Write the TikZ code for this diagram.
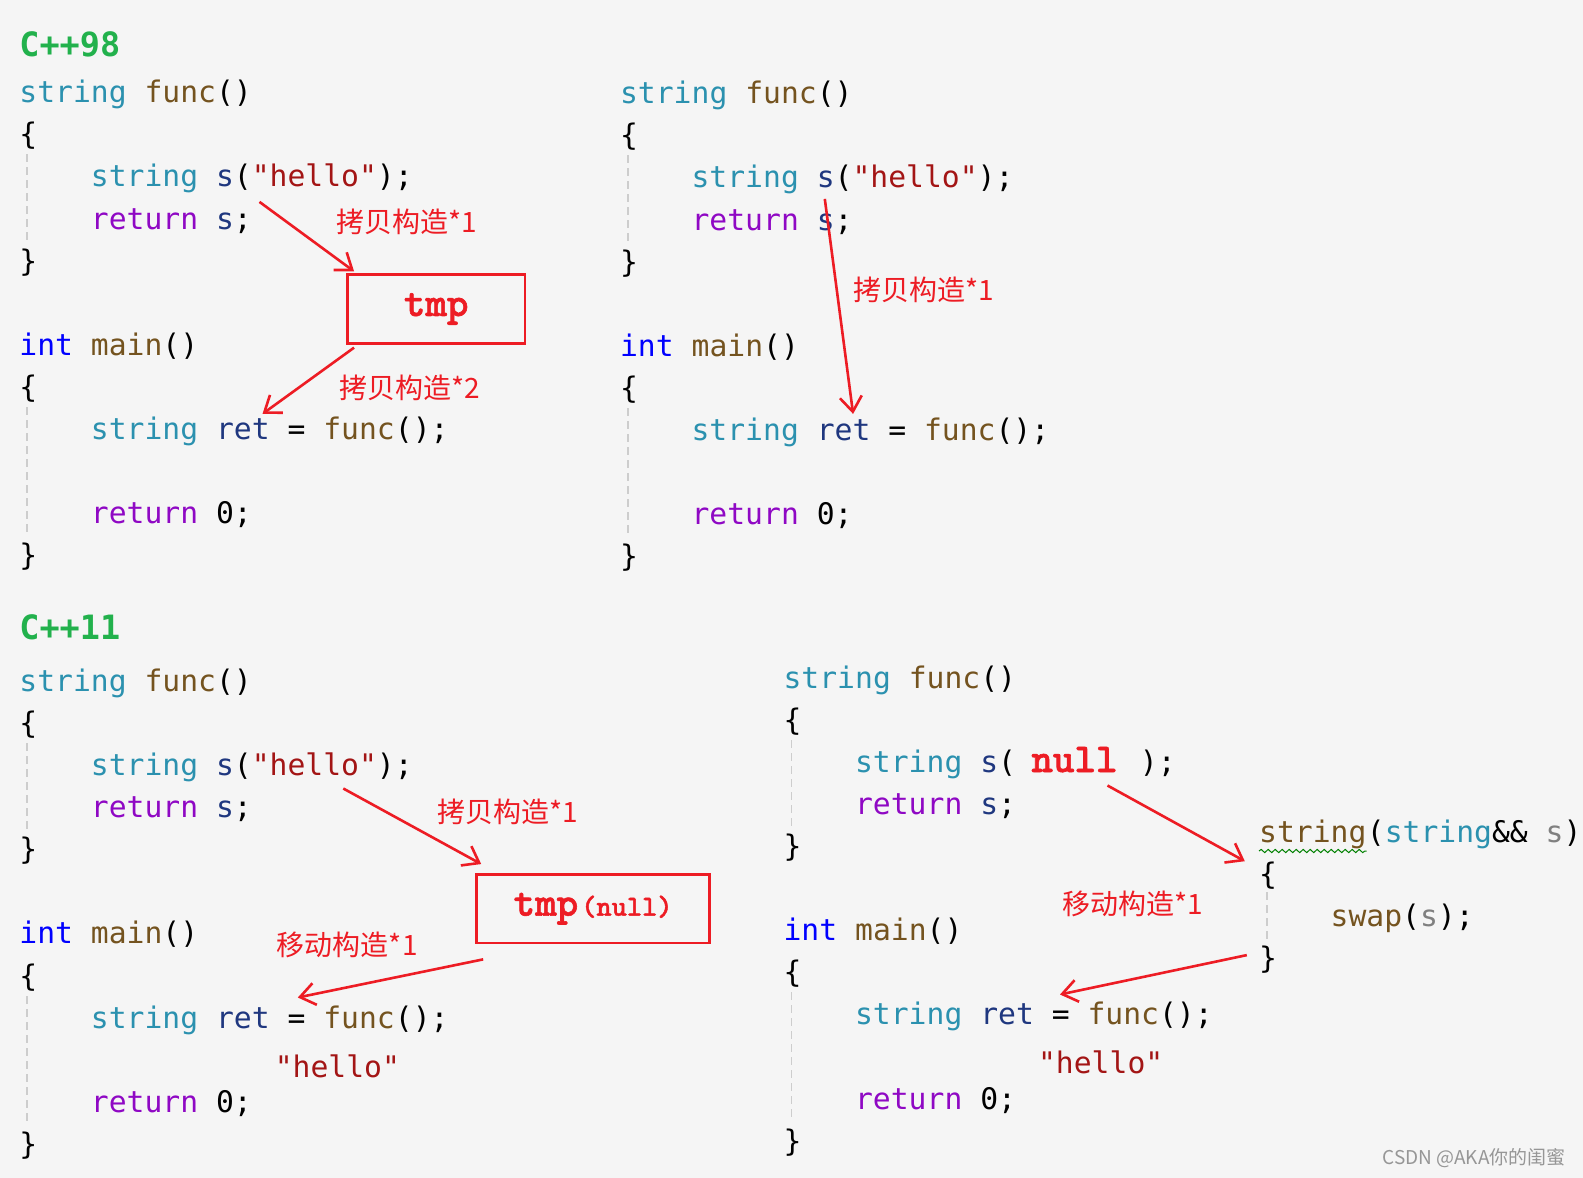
\documentclass[tikz,border=0pt]{standalone}
\usepackage{fontspec}
\setmonofont{DejaVu Sans Mono}
\newfontfamily\cjk{Noto Sans CJK SC}
\newfontfamily\slab{lmmonolt10-bold.otf}[FakeBold=1.5]
\usetikzlibrary{arrows.meta, positioning, decorations.pathmorphing}

\definecolor{bgc}{RGB}{245,245,245}
\definecolor{typ}{RGB}{43,145,175}
\definecolor{fnc}{RGB}{116,83,31}
\definecolor{kwd}{RGB}{0,0,255}
\definecolor{ctl}{RGB}{143,8,196}
\definecolor{vrb}{RGB}{31,55,127}
\definecolor{lit}{RGB}{163,21,21}
\definecolor{prm}{RGB}{128,128,128}
\definecolor{grn}{RGB}{34,177,76}
\definecolor{annred}{RGB}{237,28,36}
\definecolor{guidegray}{RGB}{205,205,205}
\definecolor{wmgray}{RGB}{150,150,150}

\newcommand{\codesize}{\fontsize{29.7}{36}\selectfont}
\newcommand{\cty}[1]{\textcolor{typ}{#1}}
\newcommand{\cfn}[1]{\textcolor{fnc}{#1}}
\newcommand{\ckw}[1]{\textcolor{kwd}{#1}}
\newcommand{\cret}[1]{\textcolor{ctl}{#1}}
\newcommand{\cvar}[1]{\textcolor{vrb}{#1}}
\newcommand{\cstr}[1]{\textcolor{lit}{#1}}
\newcommand{\cprm}[1]{\textcolor{prm}{#1}}

\begin{document}
\begin{tikzpicture}[
    x=1pt, y=-1pt,
    code/.style={anchor=base west, inner sep=0pt, font=\ttfamily\codesize},
    lang/.style={anchor=base west, inner sep=0pt, text=grn, font=\ttfamily\bfseries\fontsize{33.5}{40}\selectfont},
    note/.style={text=annred, inner sep=0pt, font=\cjk\fontsize{28}{32}\selectfont},
    tmpbox/.style={draw=annred, line width=2.6pt, minimum height=68.7pt, inner sep=0pt, text=annred},
    ann/.style={draw=annred, line width=2.6pt, -{Straight Barb[length=15pt, width=22pt]}},
    guide/.style={draw=guidegray, line width=1.5pt, dash pattern=on 8pt off 5pt}
]
    \fill[bgc] (0,0) rectangle (1583,1178);
    \useasboundingbox (0,0) rectangle (1583,1178);

    % C++98, returning a copy
    \node[lang] (lbl98) at (19.2,56) {C++98};
    \node[code] (tlhead) at (19.2,102) {\cty{string} \cfn{func}()};
    \node[code] (tlopen) at (19.2,144) {\{};
    \node[code] (tldecl) at (90.7,186) {\cty{string} \cvar{s}(\cstr{"hello"});};
    \node[code] (tlret) at (90.7,229) {\cret{return} \cvar{s};};
    \node[code] (tlclose) at (19.2,271) {\}};
    \node[code] (tlmain) at (19.2,355) {\ckw{int} \cfn{main}()};
    \node[code] (tlmopen) at (19.2,397) {\{};
    \node[code] (tlcall) at (90.7,439) {\cty{string} \cvar{ret} = \cfn{func}();};
    \node[code] (tlzero) at (90.7,523) {\cret{return} 0;};
    \node[code] (tlmclose) at (19.2,565) {\}};
    \draw[guide] ([xshift=8pt,yshift=-10pt]tlopen.base west) -- ([xshift=8pt,yshift=30pt]tlclose.base west);
    \draw[guide] ([xshift=8pt,yshift=-10pt]tlmopen.base west) -- ([xshift=8pt,yshift=30pt]tlmclose.base west);

    % temporary object
    \node[tmpbox, minimum width=177.7pt] (tmpa) at (436.2,309) {\slab\fontsize{41}{44}\selectfont tmp};
    \coordinate (tlsrc) at (259.5,201.9);
    \coordinate (tldst) at (262.5,413.9);
    \draw[ann] (tlsrc) -- ([xshift=8pt,yshift=2pt]tmpa.north west);
    \draw[ann] ([xshift=8pt,yshift=-3pt]tmpa.south west) -- (tldst);
    \node[note] (copya) at (406.9,222.1) {拷贝构造*1};
    \node[note] (copyb) at (409.9,387.7) {拷贝构造*2};

    % C++98, optimised
    \node[code] (trhead) at (619.9,103) {\cty{string} \cfn{func}()};
    \node[code] (tropen) at (619.9,145) {\{};
    \node[code] (trdecl) at (691.4,187) {\cty{string} \cvar{s}(\cstr{"hello"});};
    \node[code] (trret) at (691.4,230) {\cret{return} \cvar{s};};
    \node[code] (trclose) at (619.9,272) {\}};
    \node[code] (trmain) at (619.9,356) {\ckw{int} \cfn{main}()};
    \node[code] (trmopen) at (619.9,398) {\{};
    \node[code] (trcall) at (691.4,440) {\cty{string} \cvar{ret} = \cfn{func}();};
    \node[code] (trzero) at (691.4,524) {\cret{return} 0;};
    \node[code] (trmclose) at (619.9,566) {\}};
    \draw[guide] ([xshift=8pt,yshift=-10pt]tropen.base west) -- ([xshift=8pt,yshift=30pt]trclose.base west);
    \draw[guide] ([xshift=8pt,yshift=-10pt]trmopen.base west) -- ([xshift=8pt,yshift=30pt]trmclose.base west);
    \coordinate (trsrc) at (824.8,198.9);
    \coordinate (trdst) at (853.1,413.9);
    \draw[ann] (trsrc) -- (trdst);
    \node[note] (copyc) at (923.8,289.8) {拷贝构造*1};

    % C++11, move from tmp
    \node[lang] (lbl11) at (19.2,639) {C++11};
    \node[code] (blhead) at (19.2,691) {\cty{string} \cfn{func}()};
    \node[code] (blopen) at (19.2,733) {\{};
    \node[code] (bldecl) at (90.7,775) {\cty{string} \cvar{s}(\cstr{"hello"});};
    \node[code] (blret) at (90.7,817) {\cret{return} \cvar{s};};
    \node[code] (blclose) at (19.2,859) {\}};
    \node[code] (blmain) at (19.2,943) {\ckw{int} \cfn{main}()};
    \node[code] (blmopen) at (19.2,986) {\{};
    \node[code] (blcall) at (90.7,1028) {\cty{string} \cvar{ret} = \cfn{func}();};
    \node[code] (blhello) at (274.6,1077) {\cstr{"hello"}};
    \node[code] (blzero) at (90.7,1112) {\cret{return} 0;};
    \node[code] (blmclose) at (19.2,1154) {\}};
    \draw[guide] ([xshift=8pt,yshift=-10pt]blopen.base west) -- ([xshift=8pt,yshift=30pt]blclose.base west);
    \draw[guide] ([xshift=8pt,yshift=-10pt]blmopen.base west) -- ([xshift=8pt,yshift=30pt]blmclose.base west);

    \node[tmpbox, minimum width=233.2pt] (tmpb) at (593.1,908.7)
        {\slab\fontsize{41}{44}\selectfont tmp\hspace{3pt}\fontsize{29}{32}\selectfont(null)};
    \coordinate (blsrc) at (343.3,788.5);
    \coordinate (bldst) at (297.8,997.5);
    \draw[ann] (blsrc) -- ([xshift=6pt,yshift=9pt]tmpb.north west);
    \draw[ann] ([xshift=8pt,yshift=-15pt]tmpb.south west) -- (bldst);
    \node[note] (copyd) at (507.8,811.7) {拷贝构造*1};
    \node[note] (movea) at (347.3,945) {移动构造*1};

    % C++11, move constructor
    \node[code] (brhead) at (783.4,688) {\cty{string} \cfn{func}()};
    \node[code] (bropen) at (783.4,730) {\{};
    \node[code] (brdecl) at (854.9,772) {\cty{string} \cvar{s}(};
    \node[code, base right=15pt of brdecl, text=annred, font=\slab\fontsize{41}{44}\selectfont] (brnull) {null};
    \node[code, base right=22pt of brnull] (brend) {);};
    \node[code] (brret) at (854.9,814) {\cret{return} \cvar{s};};
    \node[code] (brclose) at (783.4,856) {\}};
    \node[code] (brmain) at (783.4,940) {\ckw{int} \cfn{main}()};
    \node[code] (brmopen) at (783.4,982) {\{};
    \node[code] (brcall) at (854.9,1024) {\cty{string} \cvar{ret} = \cfn{func}();};
    \node[code] (brhello) at (1037.9,1073) {\cstr{"hello"}};
    \node[code] (brzero) at (854.9,1109) {\cret{return} 0;};
    \node[code] (brmclose) at (783.4,1151) {\}};
    \draw[guide] ([xshift=8pt,yshift=-10pt]bropen.base west) -- ([xshift=8pt,yshift=30pt]brclose.base west);
    \draw[guide] ([xshift=8pt,yshift=-10pt]brmopen.base west) -- ([xshift=8pt,yshift=30pt]brmclose.base west);

    \node[code] (ctorname) at (1259,842) {\cfn{string}};
    \node[code, base right=0pt of ctorname] (ctorargs) {(\cty{string}\&\& \cprm{s})};
    \node[code] (ctoropen) at (1259,884) {\{};
    \node[code] (ctorswap) at (1330.5,926) {\cfn{swap}(\cprm{s});};
    \node[code] (ctorclose) at (1259,968) {\}};
    \draw[green!50!black, line width=1pt, decorate, decoration={snake, amplitude=1.6pt, segment length=7pt}]
        ([yshift=-9pt]ctorname.base west) -- ([yshift=-9pt]ctorname.base east);
    \draw[guide] ([xshift=8pt,yshift=-8pt]ctoropen.base west) -- ([xshift=8pt,yshift=26pt]ctorclose.base west);
    \coordinate (brsrc) at (1107.5,785.5);
    \coordinate (ctorin) at (1244.8,861.2);
    \coordinate (ctorout) at (1246.8,955.1);
    \coordinate (brdst) at (1060,994.5);
    \draw[ann] (brsrc) -- (ctorin);
    \draw[ann] (ctorout) -- (brdst);
    \node[note] (moveb) at (1132.7,903.6) {移动构造*1};

    \node[text=wmgray, inner sep=0pt, font=\cjk\fontsize{19}{22}\selectfont] (mark) at (1474,1158) {CSDN @AKA你的闺蜜};
\end{tikzpicture}
\end{document}
